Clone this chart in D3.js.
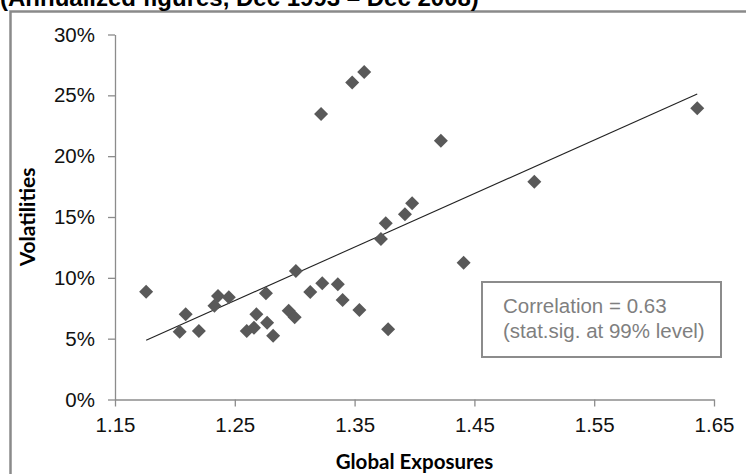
<!DOCTYPE html>
<html>
<head>
<meta charset="utf-8">
<script src="https://cdn.jsdelivr.net/npm/d3@7"></script>
<style>
  body { margin: 0; background: #fff; overflow: hidden; }
  svg { display: block; font-family: "Liberation Sans", Arial, sans-serif; }
</style>
</head>
<body>
<svg></svg>
<script>
const width = 746;
const height = 474;
const margin = {top: 34.5, right: 32, bottom: 74.5, left: 115};
const innerWidth = width - margin.left - margin.right;
const innerHeight = height - margin.top - margin.bottom;

// global exposure (x) and annualized volatility in % (y), one entry per market
const exposures = [1.176, 1.204, 1.209, 1.220, 1.233, 1.236, 1.245, 1.260, 1.266, 1.268,
  1.276, 1.277, 1.282, 1.295, 1.300, 1.301, 1.313, 1.323, 1.336, 1.340,
  1.354, 1.378, 1.372, 1.376, 1.392, 1.398, 1.441, 1.422, 1.500, 1.636,
  1.322, 1.348, 1.358];
const volatilities = [8.86, 5.57, 7.00, 5.63, 7.71, 8.50, 8.40, 5.63, 5.90, 7.00,
  8.73, 6.31, 5.24, 7.30, 6.75, 10.56, 8.83, 9.55, 9.47, 8.18,
  7.35, 5.77, 13.19, 14.48, 15.22, 16.12, 11.24, 21.27, 17.90, 23.93,
  23.46, 26.06, 26.91];
const xTicks = [1.15, 1.25, 1.35, 1.45, 1.55, 1.65];
const yTicks = [0, 5, 10, 15, 20, 25, 30];

const data = exposures.map((x, i) => ({x: x, y: volatilities[i]}));

const svg = d3.select('svg')
    .attr('width', width)
    .attr('height', height);

// chart frame: only the top and left edges are inside the picture
svg.append('path')
    .attr('d', `M10.5,${height} V11.5 H${width}`)
    .attr('fill', 'none')
    .attr('stroke', '#8a8a8a')
    .attr('stroke-width', 2.5);

svg.append('text')
    .attr('x', 0).attr('y', 6)
    .style('font-size', '24px')
    .style('font-weight', 'bold')
    .text('(Annualized figures, Dec 1993 \u2013 Dec 2008)');

const xScale = d3.scaleLinear()
    .domain([1.15, 1.65])
    .range([0, innerWidth]);

const yScale = d3.scaleLinear()
    .domain([0, 30])
    .range([innerHeight, 0]);

const g = svg.append('g')
    .attr('transform', `translate(${margin.left}, ${margin.top})`);

const yAxis = g.append('g')
    .call(d3.axisLeft(yScale)
      .tickValues(yTicks)
      .tickSize(7)
      .tickSizeOuter(0)
      .tickPadding(13)
      .tickFormat(d => d + '%'));

const xAxis = g.append('g')
    .attr('transform', `translate(0, ${innerHeight})`)
    .call(d3.axisBottom(xScale)
      .tickValues(xTicks)
      .tickSize(7)
      .tickSizeOuter(0)
      .tickPadding(11)
      .tickFormat(d3.format('.2f')));

[xAxis, yAxis].forEach(a => {
  a.selectAll('path, line').attr('stroke', '#8c8c8c').attr('stroke-width', 1.3);
  a.selectAll('text')
    .style('font-family', '"Liberation Sans", Arial, sans-serif')
    .style('font-size', '20.5px')
    .attr('fill', '#111');
});

// least squares trend line over the data range
const mx = d3.mean(data, d => d.x);
const my = d3.mean(data, d => d.y);
const slope = d3.sum(data, d => (d.x - mx) * (d.y - my)) / d3.sum(data, d => (d.x - mx) ** 2);
const intercept = my - slope * mx;
const xExt = d3.extent(data, d => d.x);

g.append('line')
    .attr('x1', xScale(xExt[0]))
    .attr('y1', yScale(intercept + slope * xExt[0]))
    .attr('x2', xScale(xExt[1]))
    .attr('y2', yScale(intercept + slope * xExt[1]))
    .attr('stroke', '#222')
    .attr('stroke-width', 1.1);

const diamond = d3.symbol().type(d3.symbolSquare).size(98);

g.selectAll('.pt').data(data)
  .enter().append('path')
    .attr('class', 'pt')
    .attr('d', diamond)
    .attr('transform', d => `translate(${xScale(d.x)}, ${yScale(d.y)}) rotate(45)`)
    .attr('fill', '#595959');

// correlation note
svg.append('rect')
    .attr('x', 482).attr('y', 282)
    .attr('width', 239).attr('height', 75)
    .attr('fill', '#fff')
    .attr('stroke', '#8c8c8c')
    .attr('stroke-width', 2);

const note = svg.append('g')
    .style('fill', '#7f7f7f')
    .style('font-size', '20.5px');
note.append('text').attr('x', 503).attr('y', 313).text('Correlation = 0.63');
note.append('text').attr('x', 503).attr('y', 337.5).text('(stat.sig. at 99% level)');

// axis titles
svg.append('text')
    .attr('x', margin.left + innerWidth / 2)
    .attr('y', 469)
    .attr('text-anchor', 'middle')
    .style('font-family', 'Lato, "Open Sans", sans-serif')
    .style('font-weight', 'bold')
    .style('font-size', '20.5px')
    .text('Global Exposures');

svg.append('text')
    .attr('transform', `translate(35, ${margin.top + innerHeight / 2}) rotate(-90)`)
    .attr('text-anchor', 'middle')
    .style('font-family', 'Lato, "Open Sans", sans-serif')
    .style('font-weight', 'bold')
    .style('font-size', '21px')
    .text('Volatilities');
</script>
</body>
</html>
